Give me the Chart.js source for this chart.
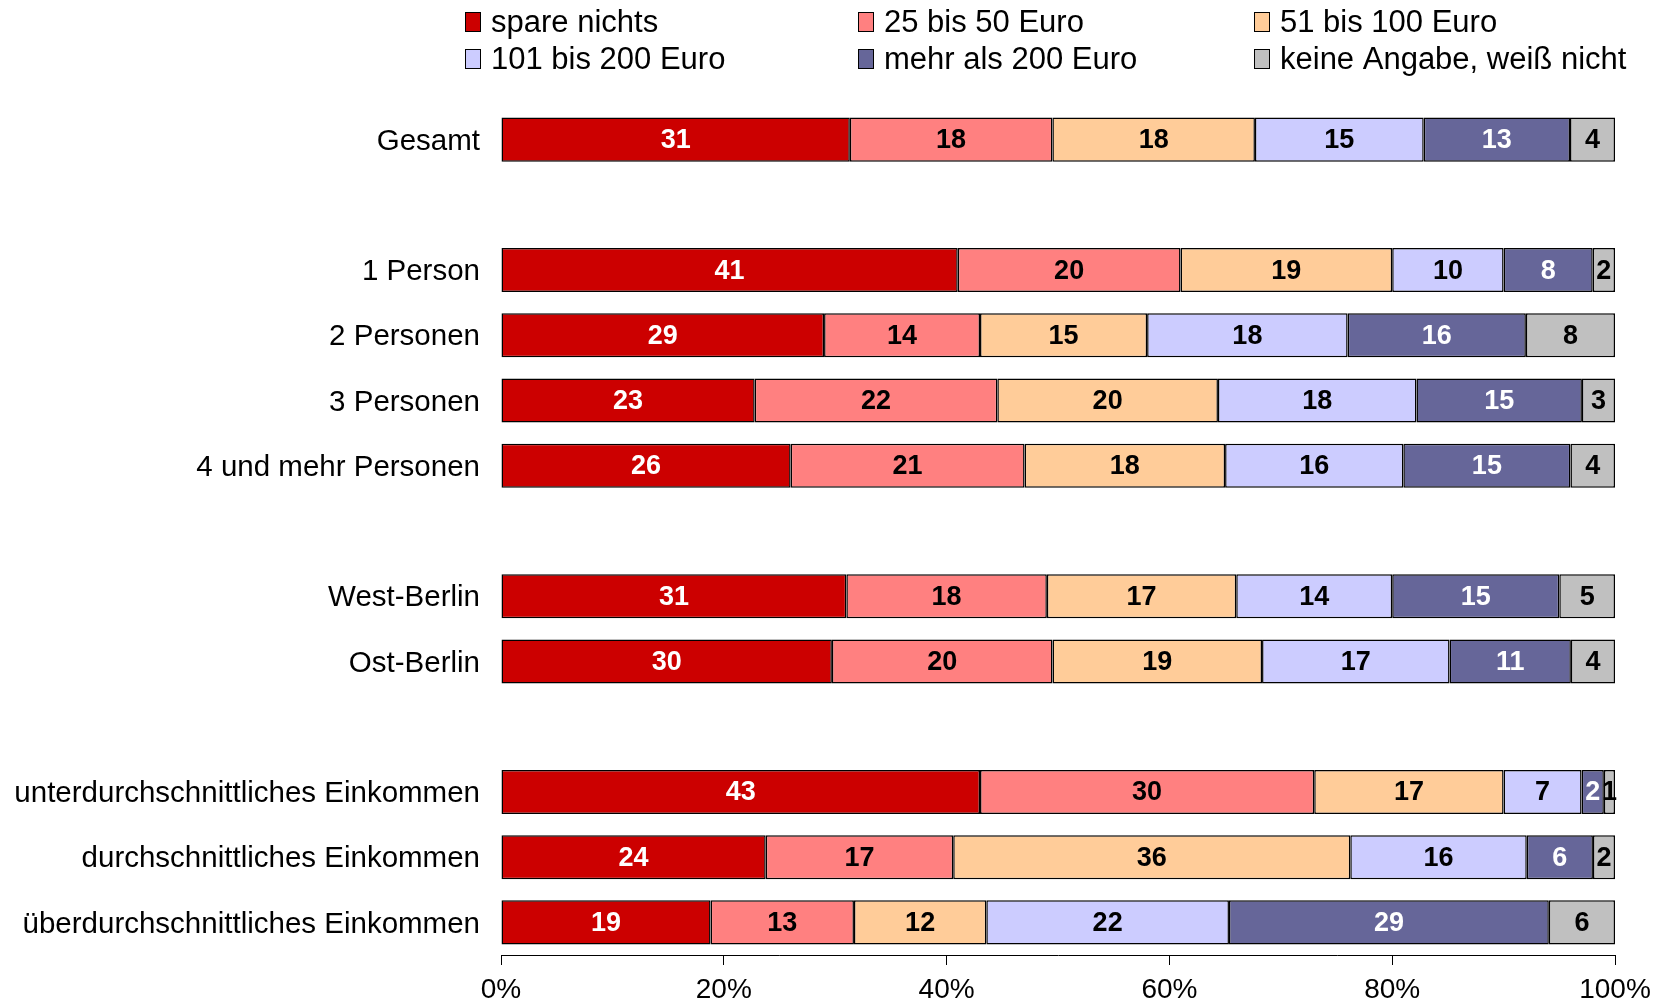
<!DOCTYPE html>
<html>
<head>
<meta charset="utf-8">
<script src="https://cdn.jsdelivr.net/npm/chart.js@4.4.0/dist/chart.umd.min.js"></script>
<style>
body { margin: 0; background: #ffffff; }
#wrap { width: 1657px; height: 1006px; }
</style>
</head>
<body>
<div id="wrap"><canvas id="chart1"></canvas></div>
<script>
// rows, empty strings are the gaps between the groups
const categories = ['Gesamt', '', '1 Person', '2 Personen', '3 Personen', '4 und mehr Personen', '',
    'West-Berlin', 'Ost-Berlin', '',
    'unterdurchschnittliches Einkommen', 'durchschnittliches Einkommen', 'überdurchschnittliches Einkommen'];
const seriesNames = ['spare nichts', '25 bis 50 Euro', '51 bis 100 Euro', '101 bis 200 Euro', 'mehr als 200 Euro', 'keine Angabe, weiß nicht'];
const spareNichts  = [31, null, 41, 29, 23, 26, null, 31, 30, null, 43, 24, 19];
const euro25bis50  = [18, null, 20, 14, 22, 21, null, 18, 20, null, 30, 17, 13];
const euro51bis100 = [18, null, 19, 15, 20, 18, null, 17, 19, null, 17, 36, 12];
const euro101bis200 = [15, null, 10, 18, 18, 16, null, 14, 17, null, 7, 16, 22];
const mehrAls200   = [13, null, 8, 16, 15, 15, null, 15, 11, null, 2, 6, 29];
const keineAngabe  = [4, null, 2, 8, 3, 4, null, 5, 4, null, 1, 2, 6];
const tickLabels = ['0%', '20%', '40%', '60%', '80%', '100%'];

const seriesValues = [spareNichts, euro25bis50, euro51bis100, euro101bis200, mehrAls200, keineAngabe];
const barColors = ['#CC0000', '#FF8080', '#FFCC99', '#CCCCFF', '#666699', '#C0C0C0'];
const textColors = ['#FFFFFF', '#000000', '#000000', '#000000', '#FFFFFF', '#000000'];
const FONT = "'Liberation Sans', Arial, sans-serif";

// each row is drawn as 100%
const rowTotals = categories.map((c, i) => seriesValues.reduce((s, arr) => s + (arr[i] || 0), 0));

const datasets = seriesValues.map((arr, k) => ({
    label: seriesNames[k],
    values: arr,
    data: arr.map((v, i) => v == null ? null : v / rowTotals[i] * 100),
    backgroundColor: barColors[k],
    borderColor: '#000000',
    borderWidth: 1.5,
    borderSkipped: false
}));

const barLabels = {
    id: 'barLabels',
    afterDatasetsDraw(chart) {
        const c = chart.ctx;
        c.save();
        c.font = 'bold 27px ' + FONT;
        c.textAlign = 'center';
        c.textBaseline = 'middle';
        chart.data.datasets.forEach((ds, k) => {
            chart.getDatasetMeta(k).data.forEach((bar, i) => {
                const v = ds.values[i];
                if (v == null) return;
                const p = bar.getProps(['x', 'y', 'base'], true);
                c.fillStyle = textColors[k];
                c.fillText(String(v), (p.x + p.base) / 2, p.y + 1);
            });
        });
        c.restore();
    }
};

// legend in three columns, two rows
const gridLegend = {
    id: 'gridLegend',
    afterDraw(chart) {
        const c = chart.ctx;
        const colX = [465, 858, 1254];
        const rowY = [22, 59];
        c.save();
        c.font = '31px ' + FONT;
        c.textBaseline = 'middle';
        c.textAlign = 'left';
        chart.data.datasets.forEach((ds, k) => {
            const x = colX[k % 3], y = rowY[Math.floor(k / 3)];
            c.fillStyle = ds.backgroundColor;
            c.fillRect(x, y - 10, 16, 20);
            c.strokeStyle = '#000000';
            c.lineWidth = 1;
            c.strokeRect(x + 0.5, y - 9.5, 15, 19);
            c.fillStyle = '#000000';
            c.fillText(ds.label, x + 26, y + 1);
        });
        c.restore();
    }
};

const ctx1 = document.getElementById('chart1');
const myChart = new Chart(ctx1, {
    type: 'bar',
    data: {
        labels: categories,
        datasets: datasets
    },
    options: {
        responsive: true,
        maintainAspectRatio: false,
        animation: false,
        indexAxis: 'y',
        categoryPercentage: 1,
        barPercentage: .675,
        layout: {
            padding: { top: 107, right: 42, left: 0, bottom: 0 }
        },
        scales: {
            x: {
                stacked: true,
                min: 0,
                max: 100,
                afterFit: s => { s.height = 51; s.paddingRight = 0; s.paddingLeft = 0; },
                grid: {
                    drawOnChartArea: false,
                    drawTicks: true,
                    tickLength: 10,
                    color: '#000000'
                },
                border: { display: true, color: '#000000', width: 1 },
                ticks: {
                    stepSize: 20,
                    padding: 8,
                    color: '#000000',
                    font: { size: 28, family: FONT },
                    maxRotation: 0,
                    callback: v => tickLabels[v / 20]
                }
            },
            y: {
                stacked: true,
                afterFit: s => { s.width = 501; },
                grid: { display: false, drawTicks: false },
                border: { display: false },
                ticks: {
                    padding: 21,
                    labelOffset: 2,
                    color: '#000000',
                    autoSkip: false,
                    font: { size: 29.5, family: FONT }
                }
            }
        },
        plugins: {
            legend: { display: false },
            tooltip: { enabled: false }
        }
    },
    plugins: [barLabels, gridLegend]
});
</script>
</body>
</html>
